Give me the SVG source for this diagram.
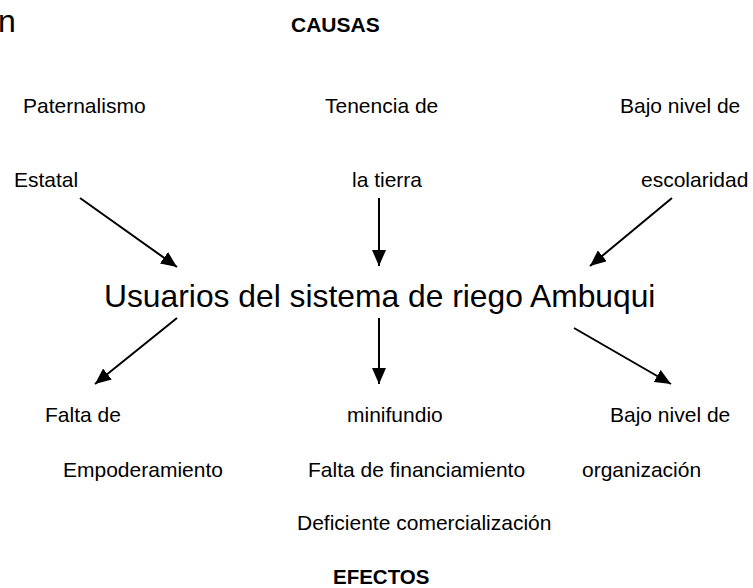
<svg xmlns="http://www.w3.org/2000/svg" width="753" height="588" viewBox="0 0 753 588">
<style>
text{font-family:"Liberation Sans",Arial,sans-serif;fill:#000}
.l{font-size:21px}
.b{font-size:21px;font-weight:bold}
.t{font-size:32px}
.c{stroke:#000;stroke-width:2;fill:none}
</style>
<defs>
<marker id="ah" markerWidth="16" markerHeight="14" refX="16" refY="7" orient="auto" markerUnits="userSpaceOnUse">
<path d="M0,0 L16,7 L0,14 Z" fill="#000"/>
</marker>
</defs>
<rect width="753" height="588" fill="#fff"/>
<text class="t" x="-2" y="32">n</text>
<g id="causas"><text class="b" x="291" y="32">CAUSAS</text></g>
<g id="paternalismo"><text class="l" x="23" y="113">Paternalismo</text><text class="l" x="14" y="187">Estatal</text></g>
<g id="tenencia"><text class="l" x="325" y="113">Tenencia de</text><text class="l" x="352" y="187">la tierra</text></g>
<g id="escolaridad"><text class="l" x="620" y="113">Bajo nivel de</text><text class="l" x="641" y="187">escolaridad</text></g>
<g id="usuarios"><text class="t" x="104" y="307" font-size="31.8" style="font-size:31.8px">Usuarios del sistema de riego Ambuqui</text></g>
<g id="empoderamiento"><text class="l" x="45" y="422">Falta de</text><text class="l" x="63" y="477">Empoderamiento</text></g>
<g id="minifundio"><text class="l" x="347" y="422">minifundio</text><text class="l" x="308" y="477">Falta de financiamiento</text><text class="l" x="297" y="530">Deficiente comercialización</text></g>
<g id="organizacion"><text class="l" x="610" y="422">Bajo nivel de</text><text class="l" x="582" y="477">organización</text></g>
<g id="efectos"><text class="b" x="333" y="584" style="font-size:20.5px">EFECTOS</text></g>
<g id="connectors">
<line class="c" x1="80" y1="198" x2="177" y2="267" marker-end="url(#ah)"/>
<line class="c" x1="379" y1="198" x2="379" y2="266" marker-end="url(#ah)"/>
<line class="c" x1="672" y1="198" x2="590" y2="266" marker-end="url(#ah)"/>
<line class="c" x1="177" y1="318" x2="95" y2="384" marker-end="url(#ah)"/>
<line class="c" x1="379" y1="318" x2="379" y2="384" marker-end="url(#ah)"/>
<line class="c" x1="574" y1="328" x2="671" y2="384" marker-end="url(#ah)"/>
</g>
</svg>
